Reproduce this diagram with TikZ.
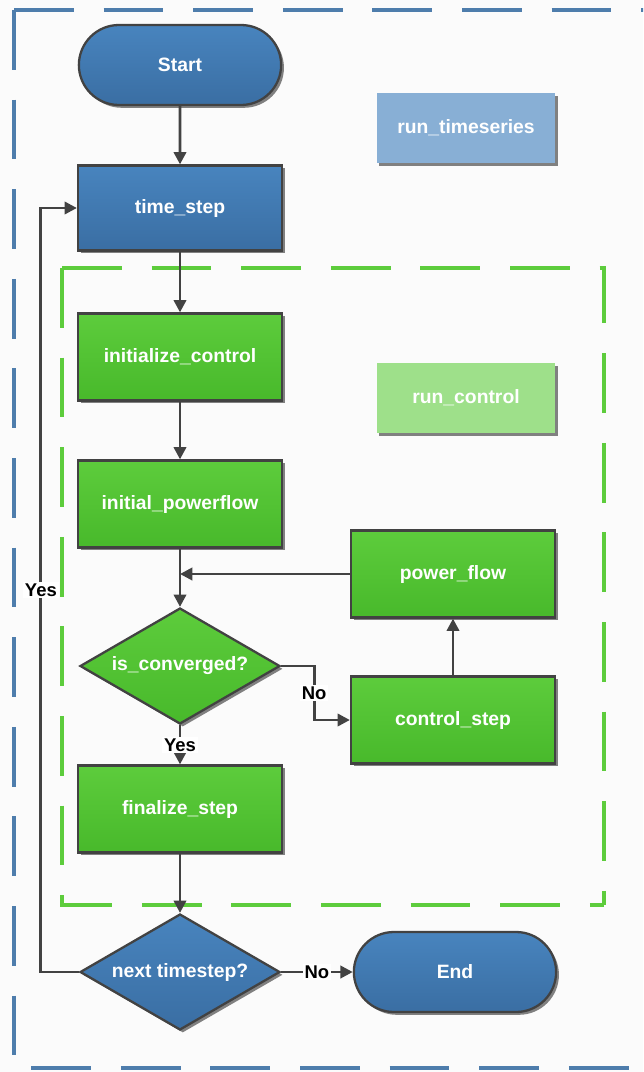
\documentclass[tikz,border=0pt]{standalone}
\usepackage{fontspec}
\newfontfamily\flowfont{Liberation Sans}
\usetikzlibrary{shapes.geometric,shapes.misc,shadows,arrows.meta}

\definecolor{bluetop}{HTML}{4884BE}
\definecolor{bluebot}{HTML}{3A6EA3}
\definecolor{greentop}{HTML}{5DCC3C}
\definecolor{greenbot}{HTML}{48B92B}
\definecolor{edgegray}{HTML}{424242}
\definecolor{bgpaper}{HTML}{FBFBFB}

\begin{document}
\begin{tikzpicture}[x=0.02cm,y=-0.02cm,
  shade/.style={drop shadow={shadow xshift=1.6pt,shadow yshift=-1.6pt,fill=black!70,opacity=0.7}},
  txt/.style={text=white,font=\flowfont\bfseries\fontsize{11}{13}\selectfont},
  bluebox/.style={txt,shade,draw=edgegray,line width=1.3pt,top color=bluetop,bottom color=bluebot,minimum width=4.08cm,minimum height=1.7cm},
  greenbox/.style={txt,shade,draw=edgegray,line width=1.3pt,top color=greentop,bottom color=greenbot,minimum width=4.08cm,minimum height=1.74cm},
  terminal/.style={bluebox,rounded rectangle,minimum width=4.28cm,minimum height=1.6cm},
  decide/.style={txt,shade,diamond,aspect=1.72,draw=edgegray,line width=1.3pt,inner sep=0pt,minimum width=4cm,minimum height=2.32cm},
  tag/.style={txt,minimum width=3.58cm,minimum height=1.4cm},
  flow/.style={draw=edgegray,line width=1.6pt,-{Triangle[length=7pt,width=7pt]}},
  answer/.style={fill=white,inner sep=1pt,font=\flowfont\bfseries\fontsize{10.5}{12}\selectfont},
  frame/.style={line width=2.2pt,dash pattern=on 34pt off 17pt}]
  \useasboundingbox (0,0) rectangle (643,1072);
  \clip (0,0) rectangle (643,1072);
  \fill[bgpaper] (0,0) rectangle (643,1072);
  % outer and inner dashed frames
  \draw[frame,color=bluebot!90] (14,10) -- (660,10);
  \draw[frame,color=bluebot!90] (14,10) -- (14,1068) -- (660,1068);
  \draw[frame,color=greentop] (62,268) -- (604,268) -- (604,905);
  \draw[frame,color=greentop] (62,268) -- (62,905) -- (604,905);

  \node[terminal] (start) at (180,65) {Start};
  \node[bluebox] (timestep) at (180,208) {time\_step};
  \node[tag,fill=bluetop!65,shade] (runts) at (466,128) {run\_timeseries};
  \node[greenbox] (initctrl) at (180,357) {initialize\_control};
  \node[tag,fill=greentop!60,shade] (runctrl) at (466,398) {run\_control};
  \node[greenbox] (initpf) at (180,504) {initial\_powerflow};
  \node[greenbox] (powerflow) at (453,574) {power\_flow};
  \node[decide,top color=greentop,bottom color=greenbot] (conv) at (180,666) {is\_converged?};
  \node[greenbox] (ctrlstep) at (453,720) {control\_step};
  \node[greenbox] (finalize) at (180,809) {finalize\_step};
  \node[decide,top color=bluetop,bottom color=bluebot] (next) at (180,972) {next timestep?};
  \node[terminal] (end) at (455,972) {End};
  \coordinate (join) at (180,574);

  \draw[flow] (start) -- (timestep);
  \draw[flow] (timestep) -- (initctrl);
  \draw[flow] (initctrl) -- (initpf);
  \draw[flow] (initpf) -- (conv);
  \draw[flow] (powerflow.west) -- (join);
  \draw[flow] (conv.east) -- ++(33,0) |- node[answer,pos=0.25] {No} (ctrlstep.west);
  \draw[flow] (ctrlstep) -- (powerflow);
  \draw[flow] (conv) -- node[answer] {Yes} (finalize);
  \draw[flow] (finalize) -- (next);
  \draw[flow] (next) -- node[answer] {No} (end);
  \draw[flow] (next.west) -- ++(-38,0) |- node[answer,pos=0.25] {Yes} (timestep.west);

\end{tikzpicture}
\end{document}
